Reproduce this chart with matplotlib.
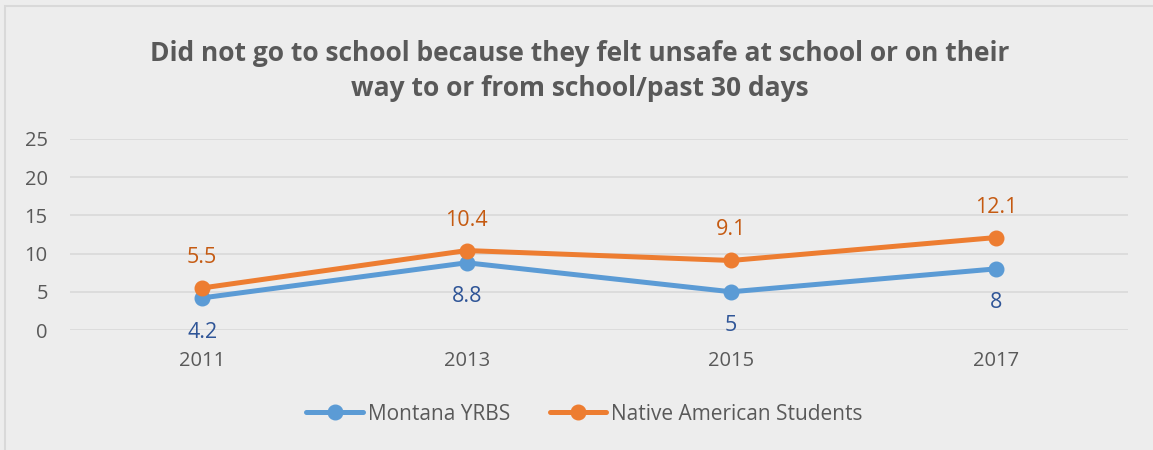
import matplotlib
matplotlib.use("Agg")
import matplotlib.pyplot as plt
from matplotlib.patches import Rectangle

years = ["2011", "2013", "2015", "2017"]
montana = [4.2, 8.8, 5, 8]
native = [5.5, 10.4, 9.1, 12.1]
montana_labels = ["4.2", "8.8", "5", "8"]
native_labels = ["5.5", "10.4", "9.1", "12.1"]
yticks = [0, 5, 10, 15, 20, 25]

bg = "#EDEDED"
W, H = 1153, 450
fig = plt.figure(figsize=(W / 100, H / 100), dpi=100, facecolor=bg)
fig.patches.append(Rectangle((5 / W, -0.1), 1.2, 1 - 6 / H + 0.1, transform=fig.transFigure,
                             fill=False, edgecolor="#D9D9D9", linewidth=1.5))

ax = fig.add_axes([70 / W, 1 - 330 / H, (1128 - 70) / W, (330 - 139) / H])
ax.set_facecolor(bg)
x = list(range(len(years)))
ax.set_xlim(-0.5, len(years) - 0.5)
ax.set_ylim(0, 25)
ax.set_yticks(yticks)
ax.set_xticks(x)
ax.set_xticklabels(years)
ax.grid(axis="y", color="#D9D9D9", linewidth=1.2)
ax.set_axisbelow(True)
for s in ax.spines.values():
    s.set_visible(False)
ax.tick_params(length=0, labelsize=14.5, colors="#595959")
ax.tick_params(axis="x", pad=15)
ax.tick_params(axis="y", pad=16)
for lab in ax.get_xticklabels() + ax.get_yticklabels():
    lab.set_family("Open Sans")

l1, = ax.plot(x, montana, color="#5B9BD5", linewidth=3.6, marker="o", markersize=10.5,
              solid_capstyle="round", label="Montana YRBS", clip_on=False)
l2, = ax.plot(x, native, color="#ED7D31", linewidth=3.6, marker="o", markersize=10.5,
              solid_capstyle="round", label="Native American Students", clip_on=False)

for xi, v, t in zip(x, montana, montana_labels):
    ax.annotate(t, (xi, v), xytext=(0, -17), textcoords="offset points", ha="center", va="top",
                fontsize=15.5, color="#2F5597", family="Open Sans")
for xi, v, t in zip(x, native, native_labels):
    ax.annotate(t, (xi, v), xytext=(0, 18), textcoords="offset points", ha="center", va="baseline",
                fontsize=15.5, color="#C55A11", family="Open Sans")

fig.text(0.503, 1 - 71 / H, "Did not go to school because they felt unsafe at school or on their\nway to or from school/past 30 days",
         ha="center", va="center", fontsize=19, fontweight="bold", color="#595959",
         family="Open Sans", linespacing=1.42)

leg = fig.legend(handles=[l1, l2], loc="center", bbox_to_anchor=(0.507, 1 - 414 / H), ncol=2,
                 frameon=False, handlelength=2.7, columnspacing=1.9, handletextpad=0.25,
                 prop={"family": "Open Sans", "size": 15})
for t in leg.get_texts():
    t.set_color("#595959")

fig.savefig("out.png", dpi=100, facecolor=bg)
